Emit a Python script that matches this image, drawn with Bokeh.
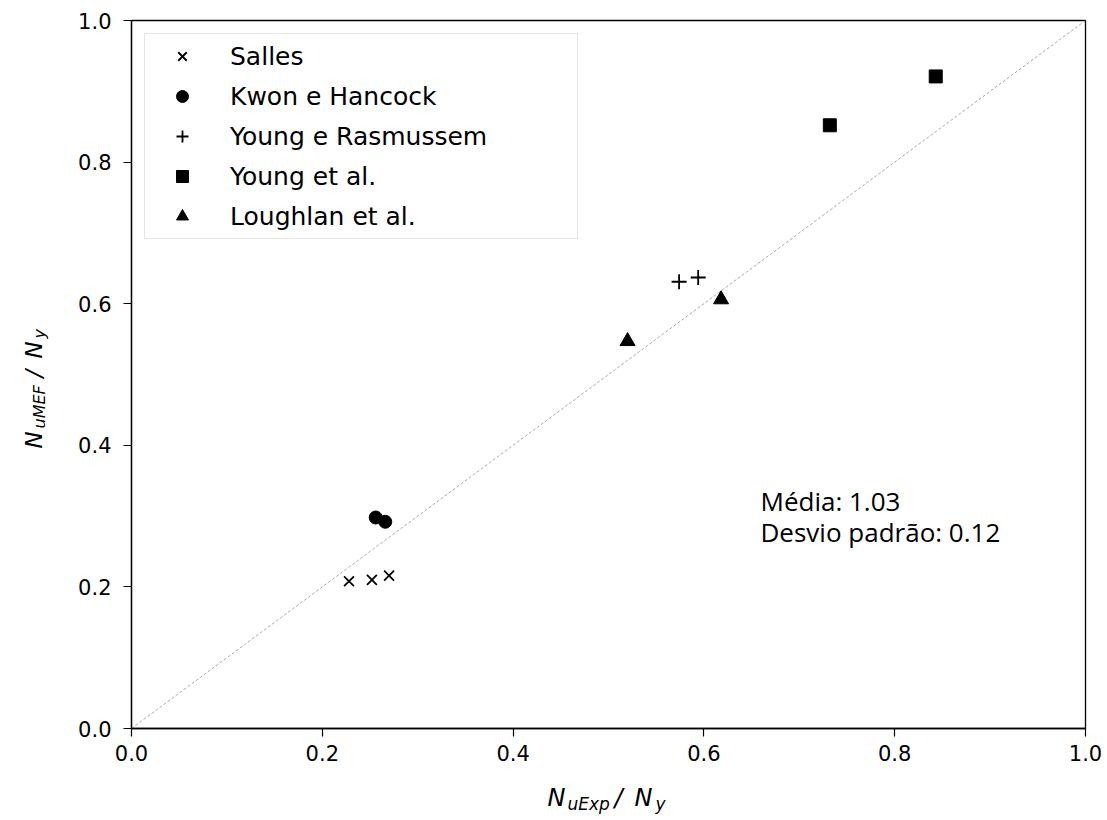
import math
from bokeh.plotting import figure
from bokeh.layouts import column, row
from bokeh.models import Range1d, FixedTicker, PrintfTickFormatter, Label
from bokeh.embed import file_html
from bokeh.resources import INLINE

# ---- data ----
salles_x = [0.228, 0.252, 0.270]
salles_y = [0.208, 0.210, 0.216]
kwon_x = [0.256, 0.266]
kwon_y = [0.298, 0.292]
yr_x = [0.574, 0.594]
yr_y = [0.631, 0.637]
ye_x = [0.732, 0.843]
ye_y = [0.852, 0.921]
lo_x = [0.520, 0.618]
lo_y = [0.547, 0.606]
ref_x = [0.0, 1.0]
ref_y = [0.0, 1.0]
ticks = [0.0, 0.2, 0.4, 0.6, 0.8, 1.0]
stats_lines = ["Média: 1.03", "Desvio padrão: 0.12"]

# ---- layout geometry (page pixels) ----
FL, FT, FW, FH = 131, 20, 954, 708   # plot frame
YW = 60                              # width of the y-label strip
MAIN_H = 778                         # height of the main figure
XH = 40                              # height of the x-label strip
TOTAL_W = 1103
BASE_K = 0.42                        # Label baseline correction (fraction of font size)

p = figure(frame_width=FW, frame_height=FH,
           x_range=Range1d(0, 1), y_range=Range1d(0, 1),
           output_backend="svg", toolbar_location=None,
           min_border_left=FL - YW, min_border_top=FT,
           min_border_right=TOTAL_W - FL - FW,
           min_border_bottom=MAIN_H - FT - FH,
           background_fill_color="white", border_fill_color="white")

p.xgrid.visible = False
p.ygrid.visible = False
p.outline_line_color = "black"
p.outline_line_width = 1.3
p.outline_line_alpha = 1.0

for ax, standoff in ((p.xaxis, 8), (p.yaxis, 12)):
    ax.ticker = FixedTicker(ticks=ticks)
    ax.formatter = PrintfTickFormatter(format="%.1f")
    ax.major_label_text_font = "DejaVu Sans"
    ax.major_label_text_font_size = "21px"
    ax.major_label_text_color = "black"
    ax.major_tick_out = 8
    ax.major_tick_in = 0
    ax.minor_tick_out = 0
    ax.minor_tick_in = 0
    ax.major_tick_line_width = 1.2
    ax.major_tick_line_color = "black"
    ax.axis_line_color = "black"
    ax.axis_line_width = 1.3
    ax.major_label_standoff = standoff

# diagonal reference line
p.line(ref_x, ref_y, line_color="#aaaaaa", line_width=1, line_dash="3 2")

# series
p.scatter(salles_x, salles_y, marker="x", size=14, line_color="black", line_width=1.8,
          legend_label="Salles")
p.scatter(kwon_x, kwon_y, marker="circle", size=13, fill_color="black", line_color="black",
          legend_label="Kwon e Hancock")
p.scatter(yr_x, yr_y, marker="cross", size=15, line_color="black", line_width=1.8,
          legend_label="Young e Rasmussem")
p.scatter(ye_x, ye_y, marker="square", size=13, fill_color="black", line_color="black",
          legend_label="Young et al.")
p.scatter(lo_x, lo_y, marker="triangle", size=15, fill_color="black", line_color="black",
          legend_label="Loughlan et al.")

lg = p.legend[0]
lg.location = "top_left"
lg.margin = 13
lg.padding = 7
lg.spacing = 10
lg.glyph_width = 60
lg.glyph_height = 30
lg.label_height = 30
lg.label_standoff = 18
lg.label_width = 340
lg.label_text_font = "DejaVu Sans"
lg.label_text_font_size = "25px"
lg.label_text_color = "black"
lg.border_line_color = "#cccccc"
lg.border_line_width = 1
lg.background_fill_color = "white"
lg.background_fill_alpha = 0.8

# statistics text (data coordinates inside the frame)
ST_SIZE = 26
for txt, base in zip(stats_lines, (512, 543)):
    py = base - 0.45 * ST_SIZE
    p.add_layout(Label(x=(760 - FL) / FW, y=(FT + FH - py) / FH, text=txt,
                       text_font="Open Sans", text_font_size=f"{ST_SIZE}px",
                       text_color="black", text_baseline="alphabetic", text_align="left"))


def strip(w, y_lo, y_hi):
    # x data = page pixels from the left, y data = minus page pixels from the top
    f = figure(width=w, height=(y_hi - y_lo), x_range=Range1d(0, w),
               y_range=Range1d(-y_hi, -y_lo),
               output_backend="svg", toolbar_location=None,
               min_border_left=0, min_border_right=0, min_border_top=0, min_border_bottom=0,
               x_axis_location=None, y_axis_location=None,
               background_fill_color="white", border_fill_color="white")
    f.outline_line_color = None
    f.xgrid.visible = False
    f.ygrid.visible = False
    return f


def lab(f, text, px, py, size, angle=0.0):
    f.add_layout(Label(x=px, y=-py, text=text, text_font="DejaVu Sans",
                       text_font_size=f"{size}px", text_font_style="italic",
                       angle=angle, text_baseline="alphabetic", text_align="left",
                       text_color="black"))


# y-axis label strip: N_uMEF / N_y (rotated); its frame is aligned to the main frame
ys = strip(YW, 0, MAIN_H)
ys.y_range = Range1d(-(FT + FH), -FT)
r = math.pi / 2
for t, bx, py, s in (("N", 43, 448, 23), ("uMEF", 46, 428, 16), ("/", 43, 377, 23),
                     ("N", 43, 358, 23), ("y", 46, 338, 16)):
    lab(ys, t, bx - BASE_K * s, py, s, r)

# x-axis label strip: N_uExp / N_y
xs = strip(TOTAL_W, MAIN_H, MAIN_H + XH)
for t, px, by, s in (("N", 547, 808, 24), ("uExp", 567, 811, 17), ("/", 614, 808, 24),
                     ("N", 634, 808, 24), ("y", 655, 811, 17)):
    lab(xs, t, px, by - BASE_K * s, s)

layout = column(row(ys, p, spacing=0), xs, spacing=0)

open("out.html", "w").write(file_html(layout, INLINE))
